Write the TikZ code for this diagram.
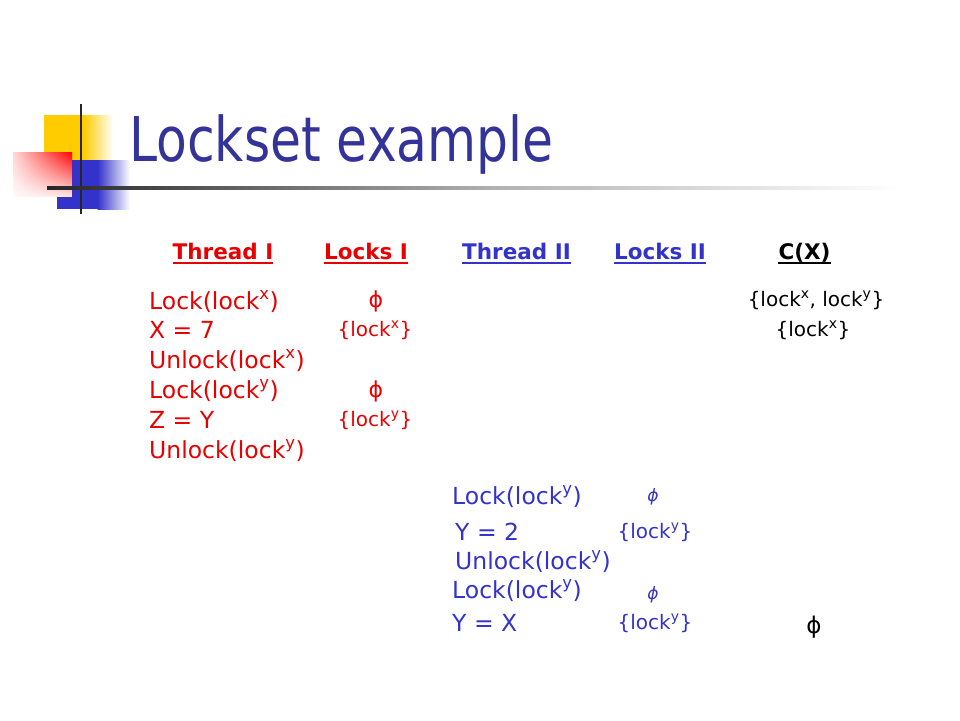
\documentclass[tikz,border=0pt]{standalone}
\usepackage{fontspec}
\setmainfont{DejaVu Sans}
\newfontfamily\titlefont[FakeStretch=0.816]{DejaVu Sans}
\usetikzlibrary{fadings}
\definecolor{titleblue}{RGB}{51,51,153}
\definecolor{tblue}{RGB}{51,51,204}
\definecolor{tred}{RGB}{232,0,0}
\definecolor{lyellow}{RGB}{255,204,0}
\definecolor{lblue}{RGB}{51,51,204}
\tikzfading[name=fadedown, top color=transparent!100, bottom color=transparent!0]
\tikzset{
  body/.style={font=\fontsize{23.5}{28}\selectfont, inner sep=0pt, anchor=base west},
  setsm/.style={font=\fontsize{20}{24}\selectfont, inner sep=0pt, anchor=base},
  hdr/.style={font=\bfseries\fontsize{21.5}{26}\selectfont, inner sep=0pt, anchor=base},
  uline/.style={line width=2pt},
  phiup/.style={inner sep=0pt, font=\fontsize{22}{24}\selectfont},
  phiit/.style={inner sep=0pt, font=\itshape\fontsize{17}{20}\selectfont},
}
\begin{document}
\begin{tikzpicture}[x=1pt,y=-1pt]
\useasboundingbox[fill=white] (0,0) rectangle (960,720);
% logo
\fill[lyellow] (44,115) rectangle (84,160);
\shade[left color=lyellow, right color=white, draw=none] (83.5,115) rectangle (113,160);
\fill[lblue] (57,160) rectangle (98,209);
\shade[left color=lblue, right color=white, draw=none] (97.5,160) rectangle (130,209);
\shade[left color=red!15, right color=red, draw=none] (13,152) rectangle (72,196);
\fill[white, path fading=fadedown, fill opacity=0.9] (13,152) rectangle (72,196.5);
\draw[line width=2pt, black!85] (81,104) -- (81,214);
% gradient rule
\shade[left color=black!85, right color=black!30, draw=none] (47,186.5) rectangle (500,189.5);
\shade[left color=black!30, right color=white, draw=none] (499.5,186.5) rectangle (900,189.5);
% title
\node[anchor=base west, inner sep=0pt, font=\titlefont\fontsize{61.7}{70}\selectfont, text=titleblue] (title) at (129,161) {Lockset example};
% headers
\node[hdr, text=tred] (h1) at (223,259) {Thread I};
\node[hdr, text=tred] (h2) at (366,259) {Locks I};
\node[hdr, text=tblue] (h3) at (516.5,259) {Thread II};
\node[hdr, text=tblue] (h4) at (660,259) {Locks II};
\node[hdr, text=black] (h5) at (804.5,259) {C(X)};
\draw[uline, tred] ([yshift=-4pt]h1.base west) -- ([yshift=-4pt]h1.base east);
\draw[uline, tred] ([yshift=-4pt]h2.base west) -- ([yshift=-4pt]h2.base east);
\draw[uline, tblue] ([yshift=-4pt]h3.base west) -- ([yshift=-4pt]h3.base east);
\draw[uline, tblue] ([yshift=-4pt]h4.base west) -- ([yshift=-4pt]h4.base east);
\draw[uline, black] ([yshift=-4pt]h5.base west) -- ([yshift=-4pt]h5.base east);
% thread I
\node[body, text=tred] (r1) at (149,309) {Lock(lock\textsuperscript{x})};
\node[body, text=tred] (r2) at (149,338.5) {X = 7};
\node[body, text=tred] (r3) at (149,368) {Unlock(lock\textsuperscript{x})};
\node[body, text=tred] (r4) at (149,398) {Lock(lock\textsuperscript{y})};
\node[body, text=tred] (r5) at (149,428) {Z = Y};
\node[body, text=tred] (r6) at (149,458) {Unlock(lock\textsuperscript{y})};
% locks I
\node[phiup, text=tred] (p1) at (376,301) {ϕ};
\node[setsm, text=tred] (s1) at (375,336) {\{lock\textsuperscript{x}\}};
\node[phiup, text=tred] (p2) at (376,391) {ϕ};
\node[setsm, text=tred] (s2) at (375,426) {\{lock\textsuperscript{y}\}};
% C(X)
\node[setsm, text=black] (c1) at (816,306) {\{lock\textsuperscript{x}, lock\textsuperscript{y}\}};
\node[setsm, text=black] (c2) at (813,336) {\{lock\textsuperscript{x}\}};
% thread II
\node[body, text=tblue] (b1) at (452,504) {Lock(lock\textsuperscript{y})};
\node[body, text=tblue] (b2) at (455,540) {Y = 2};
\node[body, text=tblue] (b3) at (455,569) {Unlock(lock\textsuperscript{y})};
\node[body, text=tblue] (b4) at (452,598) {Lock(lock\textsuperscript{y})};
\node[body, text=tblue] (b5) at (452,631) {Y = X};
% locks II
\node[phiit, text=tblue] (q1) at (653,497) {ϕ};
\node[setsm, text=tblue] (t1) at (655,538) {\{lock\textsuperscript{y}\}};
\node[phiit, text=tblue] (q2) at (653,595) {ϕ};
\node[setsm, text=tblue] (t2) at (655,629) {\{lock\textsuperscript{y}\}};
\node[phiup, text=black, font=\fontsize{23}{26}\selectfont] (q3) at (814,627) {ϕ};
\end{tikzpicture}
\end{document}
